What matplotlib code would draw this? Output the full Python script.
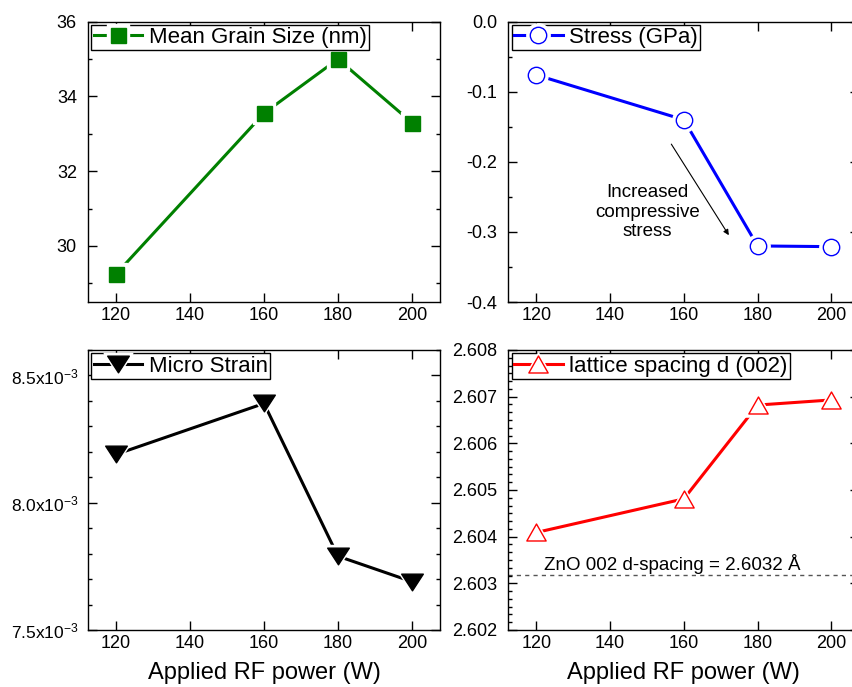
import matplotlib
matplotlib.use('Agg')
import matplotlib.pyplot as plt
from matplotlib.ticker import FixedLocator, AutoMinorLocator, FuncFormatter, MultipleLocator
from matplotlib.path import Path
from matplotlib.legend_handler import HandlerTuple
from matplotlib.lines import Line2D

plt.rcParams['font.family'] = ['Liberation Sans', 'DejaVu Sans']
plt.rcParams['mathtext.fontset'] = 'custom'
plt.rcParams['mathtext.rm'] = 'Liberation Sans'
plt.rcParams['mathtext.default'] = 'regular'
plt.rcParams['axes.unicode_minus'] = False

# ---- data ----
power = [120, 160, 180, 200]
grain_size = [29.25, 33.55, 35.0, 33.3]
stress = [-0.076, -0.140, -0.320, -0.321]
micro_strain = [8.19e-3, 8.39e-3, 7.79e-3, 7.69e-3]
d_spacing = [2.60409, 2.60481, 2.60682, 2.60693]
zno_ref = 2.60317

x_ticks = [120, 140, 160, 180, 200]
grain_ticks = [30, 32, 34, 36]
stress_ticks = [-0.4, -0.3, -0.2, -0.1, 0.0]
strain_ticks = [7.5e-3, 8.0e-3, 8.5e-3]
d_ticks = [2.602, 2.603, 2.604, 2.605, 2.606, 2.607, 2.608]

GREEN = '#008000'
BLUE = '#0000FF'
RED = '#FF0000'
BLACK = '#000000'

tri_down = Path([(-1, 0.77), (1, 0.77), (0, -0.77), (-1, 0.77)],
                [Path.MOVETO, Path.LINETO, Path.LINETO, Path.CLOSEPOLY])
tri_up = Path([(-1, -0.88), (1, -0.88), (0, 0.88), (-1, -0.88)],
              [Path.MOVETO, Path.LINETO, Path.LINETO, Path.CLOSEPOLY])

W, H = 853, 687
fig = plt.figure(figsize=(W / 100, H / 100), dpi=100)


def box(l, r, t, b):
    return [l / W, 1 - b / H, (r - l) / W, (b - t) / H]


ax_tl = fig.add_axes(box(88, 440, 21.7, 302))
ax_tr = fig.add_axes(box(508.3, 859.4, 21.7, 302))
ax_bl = fig.add_axes(box(88, 440, 350, 630))
ax_br = fig.add_axes(box(508.3, 859.4, 350, 630))


def style(ax, ypad=8, ysize=13):
    ax.set_xlim(112.4, 207.6)
    ax.xaxis.set_major_locator(FixedLocator(x_ticks))
    ax.xaxis.set_major_formatter(FuncFormatter(lambda v, p: f"{v:.0f}"))
    ax.tick_params(which='both', direction='in', top=True, right=True,
                   width=1.0, labelsize=13)
    ax.tick_params(which='major', length=6.5)
    ax.tick_params(which='minor', length=3)
    ax.tick_params(axis='x', pad=3.5)
    ax.tick_params(axis='y', pad=ypad, labelsize=ysize)
    for s in ax.spines.values():
        s.set_linewidth(1.0)


def draw(ax, y, color, marker, ms, mfc, label, halo=5):
    ax.plot(power, y, color=color, lw=2.2, zorder=2)
    ax.plot(power, y, ls='none', marker=marker, ms=ms + halo,
            mfc='white', mec='white', zorder=3)
    ax.plot(power, y, ls='none', marker=marker, ms=ms, mfc=mfc,
            mec=color, mew=1.0, zorder=4)
    h_line = Line2D([], [], color=color, lw=2.2)
    h_halo = Line2D([], [], ls='none', marker=marker, ms=ms + halo,
                    mfc='white', mec='white')
    h_mk = Line2D([], [], ls='none', marker=marker, ms=ms, mfc=mfc,
                  mec=color, mew=1.0)
    leg = ax.legend([(h_line, h_halo, h_mk)], [label],
                    handler_map={tuple: HandlerTuple(ndivide=1)},
                    loc='upper left', fontsize=16, frameon=True,
                    fancybox=False, edgecolor='black', framealpha=1,
                    borderpad=0.1, borderaxespad=0.15, handlelength=2.2,
                    handletextpad=0.3)
    leg.get_frame().set_linewidth(1.0)
    leg.set_zorder(10)


# Top-left: grain size
style(ax_tl)
draw(ax_tl, grain_size, GREEN, 's', 10.8, GREEN, 'Mean Grain Size (nm)')
ax_tl.set_ylim(28.5, 36)
ax_tl.yaxis.set_major_locator(FixedLocator(grain_ticks))
ax_tl.yaxis.set_minor_locator(AutoMinorLocator(2))
ax_tl.yaxis.set_major_formatter(FuncFormatter(lambda v, p: f"{v:.0f}"))

# Top-right: stress
style(ax_tr)
draw(ax_tr, stress, BLUE, 'o', 11.8, 'white', 'Stress (GPa)')
ax_tr.set_ylim(-0.4, 0.0)
ax_tr.yaxis.set_major_locator(FixedLocator(stress_ticks))
ax_tr.yaxis.set_minor_locator(AutoMinorLocator(2))
ax_tr.yaxis.set_major_formatter(FuncFormatter(lambda v, p: f"{v:.1f}" if abs(v) > 1e-9 else "0.0"))
ax_tr.annotate('', xy=(172.2, -0.3047), xytext=(156.6, -0.1747),
               arrowprops=dict(arrowstyle='-|>', color='black', lw=0.8,
                               mutation_scale=8, shrinkA=0, shrinkB=0))
ax_tr.text(150.1, -0.272, 'Increased\ncompressive\nstress', ha='center',
           va='center', fontsize=13.5, linespacing=1.2)

# Bottom-left: micro strain
style(ax_bl, ypad=7, ysize=12.5)
draw(ax_bl, micro_strain, BLACK, tri_down, 15.6, BLACK, 'Micro Strain')
ax_bl.set_ylim(7.5e-3, 8.6e-3)
ax_bl.yaxis.set_major_locator(FixedLocator(strain_ticks))
ax_bl.yaxis.set_minor_locator(MultipleLocator(1e-4))
ax_bl.yaxis.set_major_formatter(FuncFormatter(lambda v, p: f"{v * 1e3:.1f}x10$^{{-3}}$"))
ax_bl.set_xlabel('Applied RF power (W)', fontsize=17, labelpad=7)

# Bottom-right: d spacing
style(ax_br)
draw(ax_br, d_spacing, RED, tri_up, 13.9, 'white', 'lattice spacing d (002)')
ax_br.set_ylim(2.602, 2.608)
ax_br.yaxis.set_major_locator(FixedLocator(d_ticks))
ax_br.yaxis.set_minor_locator(AutoMinorLocator(6))
ax_br.yaxis.set_major_formatter(FuncFormatter(lambda v, p: f"{v:.3f}"))
ax_br.axhline(zno_ref, color='#555555', lw=1.0, ls=(0, (3, 3)), zorder=1)
ax_br.text(122.2, 2.60329, 'ZnO 002 d-spacing = 2.6032 Å', ha='left',
           va='baseline', fontsize=13.5)
ax_br.set_xlabel('Applied RF power (W)', fontsize=17, labelpad=7)

fig.savefig('out.png', dpi=100)
